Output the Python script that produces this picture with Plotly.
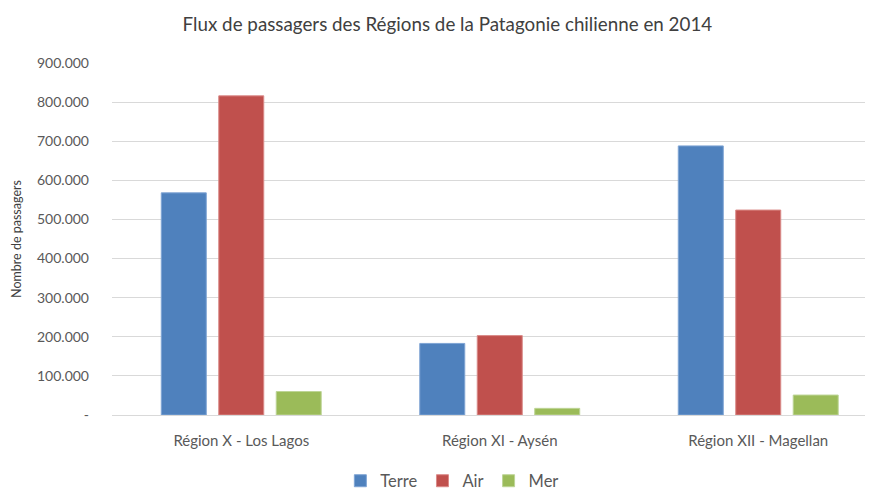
import plotly.graph_objects as go

regions = ["Région X - Los Lagos", "Région XI - Aysén", "Région XII - Magellan"]
terre = [568000, 183000, 688000]
air = [816000, 203000, 524000]
mer = [60000, 17000, 51000]
tick_vals = [0, 100000, 200000, 300000, 400000, 500000, 600000, 700000, 800000, 900000]
tick_text = ["-", "100.000", "200.000", "300.000", "400.000", "500.000",
             "600.000", "700.000", "800.000", "900.000"]

font = "Lato, Open Sans, sans-serif"
fig = go.Figure()
for name, vals, col, line in [("Terre", terre, "#4F81BD", "#7FA4D4"),
                              ("Air", air, "#C0504D", "#DA8A88"),
                              ("Mer", mer, "#9BBB59", "#BDD596")]:
    fig.add_trace(go.Bar(x=regions, y=vals, name=name, marker_color=col,
                         marker_line=dict(color=line, width=1)))

fig.update_layout(
    width=865, height=482,
    paper_bgcolor="white", plot_bgcolor="white",
    barmode="group", bargap=0.333, bargroupgap=0.217,
    margin=dict(l=104, r=8, t=55, b=75, autoexpand=False),
    title=dict(text="Flux de passagers des Régions de la Patagonie chilienne en 2014",
               x=0.508, xanchor="center", y=0.966, yanchor="middle",
               font=dict(family=font, size=18.8, color="#404040")),
    font=dict(family=font, size=13, color="#595959"),
    legend=dict(orientation="h", x=0.452, xanchor="center", y=-0.1875, yanchor="middle",
                font=dict(size=16.5, color="#595959"), itemwidth=30, traceorder="normal"),
    showlegend=True,
)
fig.update_xaxes(showgrid=False, showline=True, linecolor="#D9D9D9", ticks="",
                 automargin=False, range=[-0.5, 2.413], ticklabelstandoff=12,
                 tickfont=dict(size=15, color="#595959"))
fig.update_yaxes(range=[0, 900000], tickvals=tick_vals, ticktext=tick_text,
                 gridcolor="#D9D9D9", gridwidth=1, zeroline=False, ticks="",
                 ticklabelstandoff=22, automargin=False,
                 tickfont=dict(size=14, color="#595959"),
                 title=dict(text="Nombre de passagers", font=dict(size=12.5, color="#404040"), standoff=12))
fig.write_html("out.html")
